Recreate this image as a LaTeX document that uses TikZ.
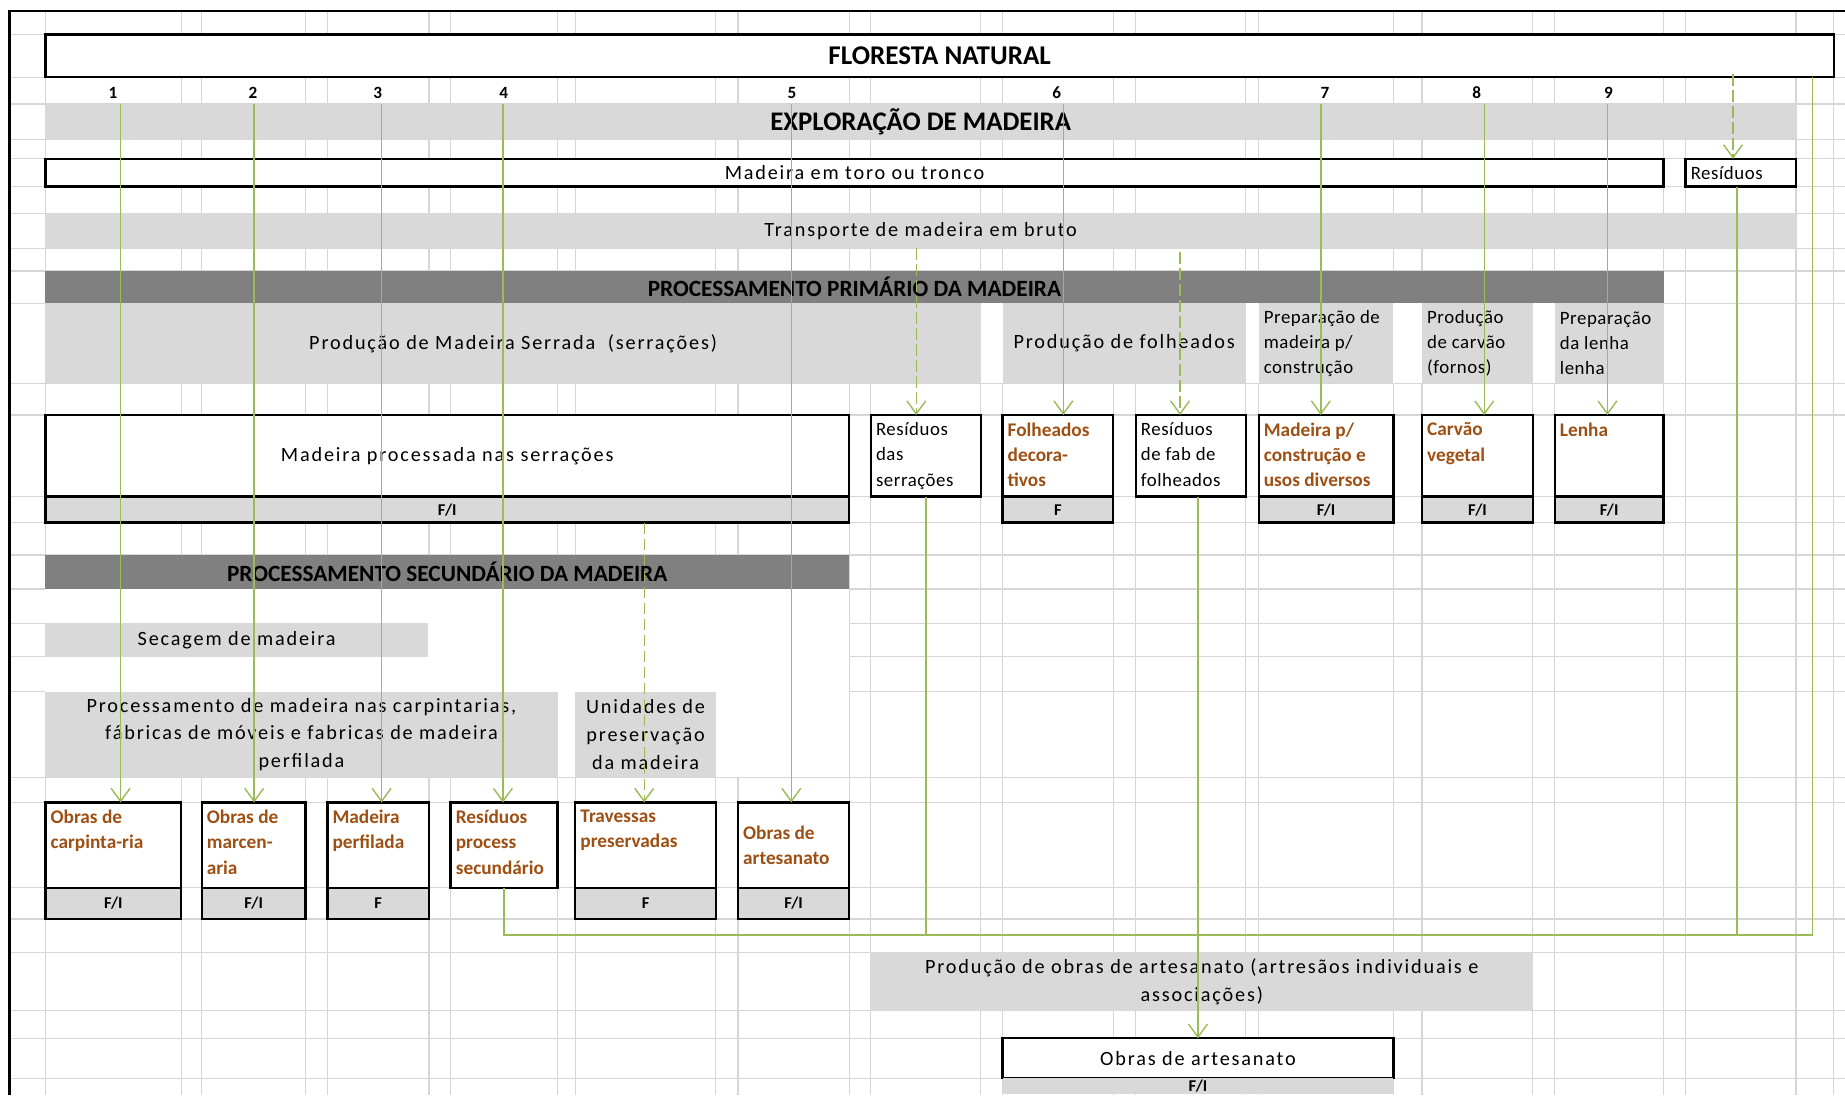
\documentclass[tikz,border=0pt]{standalone}
\usepackage{fontspec}
\setmainfont{Carlito}
\newfontfamily\widefont[LetterSpace=9]{Carlito}
\newfontfamily\midfont[LetterSpace=3]{Carlito}
\usetikzlibrary{arrows.meta}
\definecolor{cellgray}{HTML}{D9D9D9}
\definecolor{bandgray}{HTML}{808080}
\definecolor{gridgray}{HTML}{D6D6D6}
\definecolor{leafgreen}{HTML}{9BBB59}
\definecolor{woodorange}{RGB}{158,80,20}
\tikzset{
  sz/.style 2 args={minimum width=#1*0.5pt, minimum height=#2*0.5pt},
  cell/.style={fill=cellgray, inner sep=0pt, outer sep=0pt, anchor=north west, align=center, font=\widefont\fontsize{8.6}{11.8}\selectfont},
  band/.style={fill=bandgray, inner sep=0pt, outer sep=0pt, anchor=north west, font=\bfseries\fontsize{9.9}{11}\selectfont},
  box/.style={draw, line width=1pt, fill=white, inner sep=0pt, outer sep=0pt, anchor=north west},
  strip/.style={box, fill=cellgray, font=\bfseries\fontsize{7}{8}\selectfont},
  prod/.style={anchor=north west, align=left, inner sep=0pt, text=woodorange, font=\bfseries\fontsize{8.2}{10.75}\selectfont},
  plain/.style={anchor=north west, align=left, inner sep=0pt, font=\midfont\fontsize{8}{10.75}\selectfont},
  num/.style={inner sep=0pt, font=\bfseries\fontsize{7.3}{8}\selectfont},
  flow/.style={leafgreen, line width=0.6pt, -{Straight Barb[length=5.5pt,width=8pt]}},
  waste/.style={flow, dash pattern=on 5pt off 1.8pt},
  link/.style={leafgreen, line width=0.6pt},
}
\begin{document}
\begin{tikzpicture}[x=0.5pt, y=-0.5pt]
\useasboundingbox (0,0) rectangle (1568,931);
\clip (0,0) rectangle (1568,931);
\foreach \gx in {38.6,154,171.4,259.7,278.2,364.6,383,473.8,488.9,608.4,627.2,721.6,740.1,833.5,852,946.1,965.2,1058.8,1069.7,1184.2,1208.5,1302.7,1321.3,1413.8,1432.5,1526.3,1558.5}
  \draw[gridgray, line width=0.5pt] (\gx,9.3) -- (\gx,931);
\foreach \gy in {29.2,65.7,88.4,118.4,135,158.6,181.3,211,230.3,257.8,325.8,352.7,422.1,444.2,471.7,500.5,529.7,558,587.8,660.6,682,754.4,781,809.4,859,882.4,916.4}
  \draw[gridgray, line width=0.5pt] (8,\gy) -- (1568,\gy);
\fill[white] (38.6,257.8) rectangle (1413.8,325.8);
\fill[white] (38.6,500.5) rectangle (721.6,660.6);
\draw[line width=1pt] (8,931) -- (8,9.3) -- (1568,9.3);

\node[box, sz={1519.9}{36.5}, font=\bfseries\fontsize{11.5}{13}\selectfont] (flor) at (38.6,29.2) {FLORESTA NATURAL};
\foreach \k/\nx in {1/96,2/215,3/321,4/428,5/673,6/898,7/1126,8/1255,9/1367}
  \node[num] (n\k) at (\nx,79) {\k};
\node[cell, sz={1487.7}{30}, font=\bfseries\fontsize{11.4}{13}\selectfont] (expl) at (38.6,88.4) {EXPLORAÇÃO DE MADEIRA};
\node[box, sz={1375.2}{23.6}, font=\widefont\fontsize{8.6}{10}\selectfont] (toro) at (38.6,135) {Madeira em toro ou tronco};
\node[box, sz={93.8}{23.6}] (res) at (1432.5,135) {};
\node[plain, anchor=west] at ([xshift=2pt]res.west) {Resíduos};
\node[cell, sz={1487.7}{29.7}] (transp) at (38.6,181.3) {Transporte de madeira em bruto};

\node[band, sz={1375.2}{27.5}] (prim) at (38.6,230.3) {PROCESSAMENTO PRIMÁRIO DA MADEIRA};
\node[cell, sz={794.9}{68}] (serr) at (38.6,257.8) {Produção de Madeira Serrada\ \ (serrações)};
\node[cell, sz={206.8}{68}] (folh) at (852,257.8) {Produção de folheados};
\node[cell, sz={114.5}{68}] (prepc) at (1069.7,257.8) {};
\node[plain, anchor=west] at ([xshift=2pt]prepc.west) {Preparação de\\madeira p/\\construção};
\node[cell, sz={94.2}{68}] (carvc) at (1208.5,257.8) {};
\node[plain, anchor=west] at ([xshift=2pt]carvc.west) {Produção\\de carvão\\(fornos)};
\node[cell, sz={92.5}{68}] (lenhac) at (1321.3,257.8) {};
\node[plain, anchor=west] at ([xshift=2pt]lenhac.west) {Preparação\\da lenha\\lenha};

\node[box, sz={683}{69.4}, font=\widefont\fontsize{8.6}{10}\selectfont] (serrBox) at (38.6,352.7) {Madeira processada nas serrações};
\node[strip, sz={683}{22.1}] (serrFI) at (serrBox.south west) {F/I};
\node[box, sz={93.4}{69.4}] (resServ) at (740.1,352.7) {};
\node[plain] at ([shift={(2pt,-3pt)}]resServ.north west) {Resíduos\\das\\serrações};
\node[box, sz={94.1}{69.4}] (folhBox) at (852,352.7) {};
\node[prod] at ([shift={(2pt,-3pt)}]folhBox.north west) {Folheados\\decora-\\tivos};
\node[strip, sz={94.1}{22.1}] (folhFI) at (folhBox.south west) {F};
\node[box, sz={93.6}{69.4}] (resFol) at (965.2,352.7) {};
\node[plain] at ([shift={(2pt,-3pt)}]resFol.north west) {Resíduos\\de fab de\\folheados};
\node[box, sz={114.5}{69.4}] (constr) at (1069.7,352.7) {};
\node[prod] at ([shift={(2pt,-3pt)}]constr.north west) {Madeira p/\\construção e\\usos diversos};
\node[strip, sz={114.5}{22.1}] (constrFI) at (constr.south west) {F/I};
\node[box, sz={94.2}{69.4}] (carv) at (1208.5,352.7) {};
\node[prod] at ([shift={(2pt,-3pt)}]carv.north west) {Carvão\\vegetal};
\node[strip, sz={94.2}{22.1}] (carvFI) at (carv.south west) {F/I};
\node[box, sz={92.5}{69.4}] (lenha) at (1321.3,352.7) {};
\node[prod] at ([shift={(2pt,-3pt)}]lenha.north west) {Lenha};
\node[strip, sz={92.5}{22.1}] (lenhaFI) at (lenha.south west) {F/I};

\node[band, sz={683}{28.8}] (sec) at (38.6,471.7) {PROCESSAMENTO SECUNDÁRIO DA MADEIRA};
\node[cell, sz={325}{28.3}] (seca) at (38.6,529.7) {Secagem de madeira};
\node[cell, sz={435.2}{72.8}] (carpc) at (38.6,587.8) {Processamento de madeira nas carpintarias,\\fábricas de móveis e fabricas de madeira\\perfilada};
\node[cell, sz={119.5}{72.8}] (presc) at (488.9,587.8) {Unidades de\\preservação\\da madeira};

\node[box, sz={115.4}{72.4}] (carp) at (38.6,682) {};
\node[prod] at ([shift={(2pt,-3pt)}]carp.north west) {Obras de\\carpinta-ria};
\node[strip, sz={115.4}{26.6}] (carpFI) at (carp.south west) {F/I};
\node[box, sz={88.3}{72.4}] (marc) at (171.4,682) {};
\node[prod] at ([shift={(2pt,-3pt)}]marc.north west) {Obras de\\marcen-\\aria};
\node[strip, sz={88.3}{26.6}] (marcFI) at (marc.south west) {F/I};
\node[box, sz={86.4}{72.4}] (perf) at (278.2,682) {};
\node[prod] at ([shift={(2pt,-3pt)}]perf.north west) {Madeira\\perfilada};
\node[strip, sz={86.4}{26.6}] (perfFI) at (perf.south west) {F};
\node[box, sz={90.8}{72.4}] (resSec) at (383,682) {};
\node[prod] at ([shift={(2pt,-3pt)}]resSec.north west) {Resíduos\\process\\secundário};
\node[box, sz={119.5}{72.4}] (trav) at (488.9,682) {};
\node[prod] at ([shift={(2pt,-3pt)}]trav.north west) {Travessas\\preservadas};
\node[strip, sz={119.5}{26.6}] (travFI) at (trav.south west) {F};
\node[box, sz={94.4}{72.4}] (obras) at (627.2,682) {};
\node[prod, anchor=west] at ([xshift=2pt]obras.west) {Obras de\\artesanato};
\node[strip, sz={94.4}{26.6}] (obrasFI) at (obras.south west) {F/I};

\node[cell, sz={563.5}{49.6}] (artc) at (739.6,809.4) {Produção de obras de artesanato (artresãos individuais e\\associações)};
\node[box, sz={332.2}{34}, font=\widefont\fontsize{8.6}{10}\selectfont] (art) at (852,882.4) {Obras de artesanato};
\node[strip, draw=none, sz={332.2}{13}] (artFI) at (art.south west) {F/I};

\foreach \cx/\tgt in {102.5/carp,216/marc,324.3/perf,427.4/resSec,672.5/obras,903.7/folhBox,1122.5/constr,1261.4/carv,1366.1/lenha}{
  \coordinate (top\tgt) at (\cx,88);
  \draw[flow] (top\tgt) -- (top\tgt |- \tgt.north);
}
\coordinate (dRes) at (1472.8,63);
\coordinate (dServ) at (778.7,211);
\coordinate (dFol) at (1002.9,214);
\coordinate (dTrav) at (547.5,444.2);
\draw[waste] (dRes) -- (dRes |- res.north);
\draw[waste] (dServ) -- (dServ |- resServ.north);
\draw[waste] (dFol) -- (dFol |- resFol.north);
\draw[waste] (dTrav) -- (dTrav |- trav.north);

\coordinate (busR) at (1540.5,794.5);
\draw[link] (resSec.south) |- (busR) -- (busR |- flor.south);
\draw[link] ([xshift=-1.6pt]res.south) -- ([xshift=-1.6pt]res.south |- busR);
\draw[link] (resServ.south) -- (resServ.south |- busR);
\draw[flow] (resFol.south -| art.north) -- (art.north);
\end{tikzpicture}
\end{document}
